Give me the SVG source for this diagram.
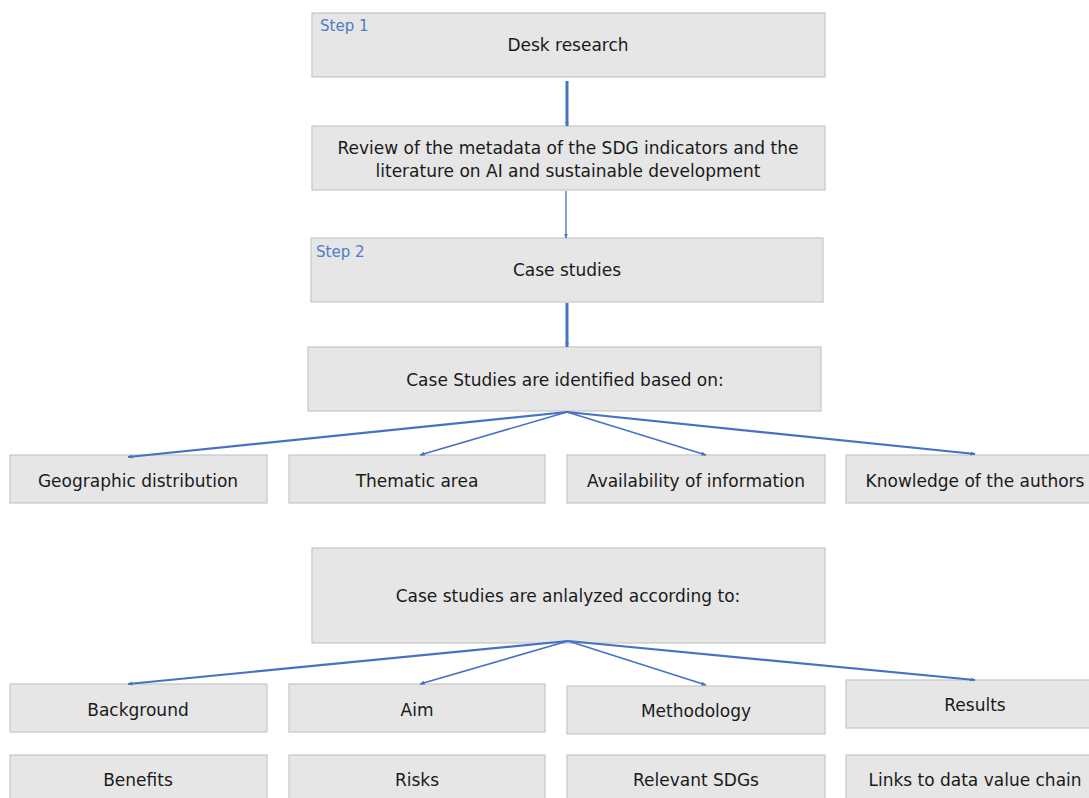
<svg xmlns="http://www.w3.org/2000/svg" width="1089" height="798" viewBox="0 0 1089 798">
<style>
.box{fill:#e6e6e6;stroke:#c6c6c6;stroke-width:1.2}
.t{font-family:"DejaVu Sans",sans-serif;font-size:17px;fill:#1a1a1a;text-anchor:middle}
.s{font-family:"DejaVu Sans",sans-serif;font-size:15px;fill:#4d7cc9}
.c{stroke:#4472c4;fill:none}
</style>
<defs>
<marker id="ah" viewBox="0 0 10 10" refX="9" refY="5" markerWidth="5" markerHeight="5" orient="auto" markerUnits="userSpaceOnUse"><path d="M0,1 L10,5 L0,9 Z" fill="#4472c4"/></marker>
</defs>
<g id="n1"><rect class="box" x="312" y="13" width="513" height="64"/><text class="s" x="320" y="31">Step 1</text><text class="t" x="568" y="51">Desk research</text></g>
<g id="n2"><rect class="box" x="312" y="126" width="513" height="64"/><text class="t" x="568" y="154">Review of the metadata of the SDG indicators and the</text><text class="t" x="568" y="177">literature on AI and sustainable development</text></g>
<g id="n3"><rect class="box" x="311" y="238" width="512" height="64"/><text class="s" x="316" y="257">Step 2</text><text class="t" x="567" y="276">Case studies</text></g>
<g id="n4"><rect class="box" x="308" y="347" width="513" height="64"/><text class="t" x="565" y="386">Case Studies are identified based on:</text></g>
<g id="n5"><rect class="box" x="10" y="455" width="257" height="48"/><text class="t" x="138" y="487">Geographic distribution</text></g>
<g id="n6"><rect class="box" x="289" y="455" width="256" height="48"/><text class="t" x="417" y="487">Thematic area</text></g>
<g id="n7"><rect class="box" x="567" y="455" width="258" height="48"/><text class="t" x="696" y="487">Availability of information</text></g>
<g id="n8"><rect class="box" x="846" y="455" width="250" height="48"/><text class="t" x="975" y="487">Knowledge of the authors</text></g>
<g id="n9"><rect class="box" x="312" y="548" width="513" height="95"/><text class="t" x="568" y="602">Case studies are anlalyzed according to:</text></g>
<g id="n10"><rect class="box" x="10" y="684" width="257" height="48"/><text class="t" x="138" y="716">Background</text></g>
<g id="n11"><rect class="box" x="289" y="684" width="256" height="48"/><text class="t" x="417" y="716">Aim</text></g>
<g id="n12"><rect class="box" x="567" y="686" width="258" height="48"/><text class="t" x="696" y="717">Methodology</text></g>
<g id="n13"><rect class="box" x="846" y="680" width="250" height="48"/><text class="t" x="975" y="711">Results</text></g>
<g id="n14"><rect class="box" x="10" y="755" width="257" height="48"/><text class="t" x="138" y="786">Benefits</text></g>
<g id="n15"><rect class="box" x="289" y="755" width="256" height="48"/><text class="t" x="417" y="786">Risks</text></g>
<g id="n16"><rect class="box" x="567" y="755" width="258" height="48"/><text class="t" x="696" y="786">Relevant SDGs</text></g>
<g id="n17"><rect class="box" x="846" y="755" width="250" height="48"/><text class="t" x="975" y="786">Links to data value chain</text></g>
<g id="connectors">
<line class="c" x1="567" y1="81" x2="567" y2="126" stroke-width="3" marker-end="url(#ah)"/>
<line class="c" x1="566" y1="191" x2="566" y2="238" stroke-width="1.3" marker-end="url(#ah)"/>
<line class="c" x1="567" y1="303" x2="567" y2="347" stroke-width="3" marker-end="url(#ah)"/>
<line class="c" x1="567" y1="412" x2="128" y2="457" stroke-width="2.2" marker-end="url(#ah)"/>
<line class="c" x1="567" y1="412" x2="420" y2="455" stroke-width="1.6" marker-end="url(#ah)"/>
<line class="c" x1="567" y1="412" x2="706" y2="455" stroke-width="1.6" marker-end="url(#ah)"/>
<line class="c" x1="567" y1="412" x2="975" y2="454" stroke-width="2.2" marker-end="url(#ah)"/>
<line class="c" x1="568" y1="641" x2="128" y2="684" stroke-width="2.2" marker-end="url(#ah)"/>
<line class="c" x1="568" y1="641" x2="420" y2="684" stroke-width="1.6" marker-end="url(#ah)"/>
<line class="c" x1="568" y1="641" x2="706" y2="685" stroke-width="1.6" marker-end="url(#ah)"/>
<line class="c" x1="568" y1="641" x2="975" y2="680" stroke-width="2.2" marker-end="url(#ah)"/>
</g>
</svg>
